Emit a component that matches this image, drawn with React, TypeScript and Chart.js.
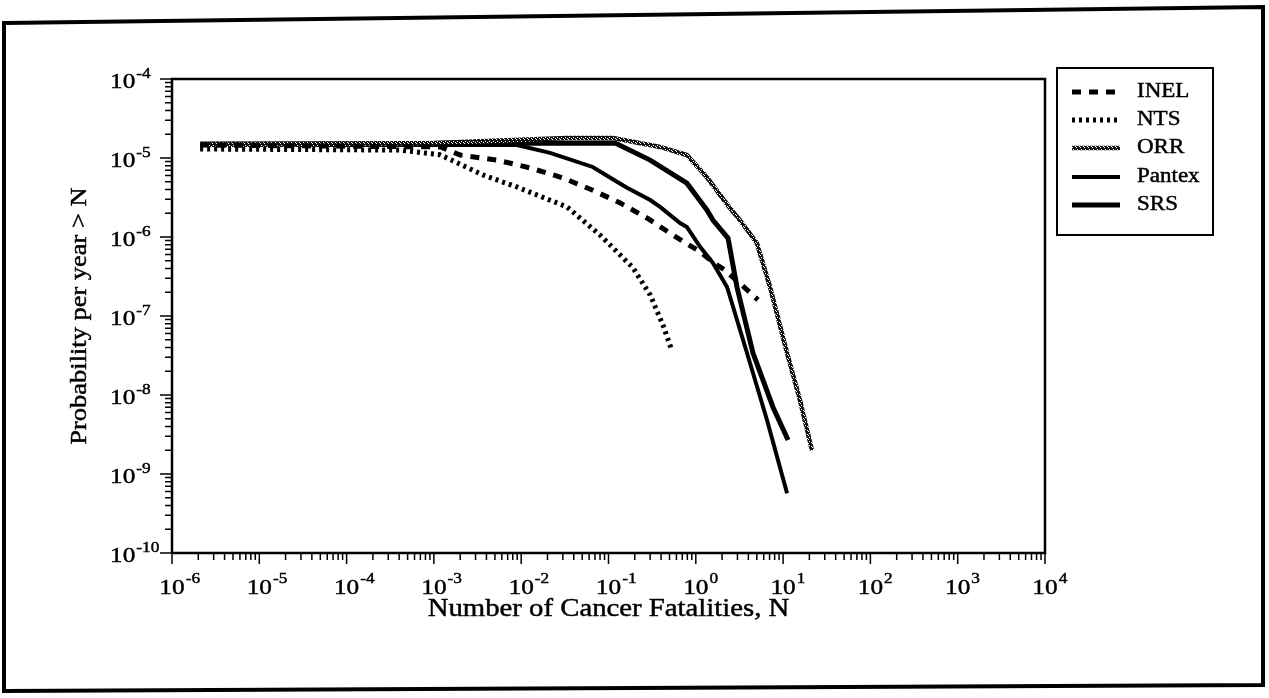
import React, { useEffect, useRef } from "react";
import { Chart, registerables } from "chart.js";

Chart.register(...registerables);

// ---------- data ----------
const X_TICK_EXPONENTS = [-6, -5, -4, -3, -2, -1, 0, 1, 2, 3, 4];
const Y_TICK_EXPONENTS = [-10, -9, -8, -7, -6, -5, -4];

const SERIES_NAMES = ["INEL", "NTS", "ORR", "Pantex", "SRS"];

const INEL_X = [2.1e-6, 1.2e-3, 2.0e-3, 5.3e-3, 1.26e-2, 3.0e-2, 6.6e-2, 0.136, 0.276, 0.545, 1.12, 1.57, 2.16, 3.95, 5.15];
const INEL_Y = [1.46e-5, 1.38e-5, 1.09e-5, 9.4e-6, 7.5e-6, 5.6e-6, 3.9e-6, 2.7e-6, 1.74e-6, 1.06e-6, 6.5e-7, 4.8e-7, 3.8e-7, 2.1e-7, 1.6e-7];

const NTS_X = [2.1e-6, 4.1e-4, 1.17e-3, 3.65e-3, 8.9e-3, 3.35e-2, 8.0e-2, 0.19, 0.3, 0.42, 0.53];
const NTS_Y = [1.3e-5, 1.26e-5, 1.1e-5, 6.1e-6, 4.3e-6, 2.4e-6, 1.06e-6, 4.1e-7, 1.85e-7, 7.7e-8, 3.7e-8];

const ORR_X = [2.1e-6, 1.0e-3, 3.35e-2, 0.113, 0.39, 0.79, 1.34, 2.4, 3.2, 5.0, 7.1, 11.1, 15.6, 21.4];
const ORR_Y = [1.46e-5, 1.55e-5, 1.79e-5, 1.79e-5, 1.38e-5, 1.09e-5, 5.7e-6, 2.4e-6, 1.64e-6, 8.4e-7, 2.3e-7, 3.4e-8, 8.6e-9, 2.0e-9];

const PANTEX_X = [2.1e-6, 8.9e-3, 2.14e-2, 6.6e-2, 0.125, 0.163, 0.3, 0.39, 0.66, 0.79, 1.12, 1.57, 2.28, 3.86, 6.55, 11.1];
const PANTEX_Y = [1.46e-5, 1.46e-5, 1.16e-5, 7.7e-6, 5.0e-6, 4.2e-6, 2.94e-6, 2.4e-6, 1.5e-6, 1.34e-6, 7.5e-7, 4.7e-7, 2.33e-7, 3.4e-8, 4.8e-9, 5.7e-10];

const SRS_X = [2.1e-6, 0.119, 0.3, 0.79, 1.34, 1.57, 2.34, 2.96, 4.52, 7.66, 11.4];
const SRS_Y = [1.5e-5, 1.55e-5, 9.4e-6, 4.8e-6, 2.2e-6, 1.64e-6, 9.7e-7, 2.33e-7, 3.4e-8, 7.0e-9, 2.7e-9];

const X_TITLE = "Number of Cancer Fatalities, N";
const Y_TITLE = "Probability per year > N";

// ---------- drawing helpers ----------
const W = 1269;
const H = 698;
const SX = 1.15;
const FONT = '"Liberation Serif", "Times New Roman", serif';

function drawText(ctx: CanvasRenderingContext2D, s: string, x: number, y: number, size: number, align: string, baseline: CanvasTextBaseline = "alphabetic") {
  ctx.save();
  ctx.font = `${size}px ${FONT}`;
  ctx.textBaseline = baseline;
  const w = ctx.measureText(s).width * SX;
  const x0 = align === "center" ? x - w / 2 : align === "right" ? x - w : x;
  ctx.translate(x0, y);
  ctx.scale(SX, 1);
  ctx.textAlign = "left";
  ctx.fillStyle = "#000";
  ctx.fillText(s, 0, 0);
  ctx.lineWidth = 0.45;
  ctx.strokeStyle = "#000";
  ctx.strokeText(s, 0, 0);
  ctx.restore();
  return w;
}

function textWidth(ctx: CanvasRenderingContext2D, s: string, size: number) {
  ctx.save();
  ctx.font = `${size}px ${FONT}`;
  const w = ctx.measureText(s).width * SX;
  ctx.restore();
  return w;
}

function makeStipple(): CanvasPattern | string {
  const c = document.createElement("canvas");
  c.width = 4;
  c.height = 4;
  const g = c.getContext("2d");
  if (!g) return "#555";
  g.fillStyle = "#111";
  g.fillRect(0, 0, 4, 4);
  g.fillStyle = "#fff";
  g.fillRect(1, 1, 1, 1);
  g.fillRect(3, 2, 1, 1);
  g.fillRect(0, 3, 1, 1);
  const p = g.createPattern(c, "repeat");
  return p || "#555";
}

const BASE = 22;
const SUP = 15;

const decorPlugin = {
  id: "decor",
  beforeDraw(chart: any) {
    const ctx = chart.ctx;
    ctx.save();
    ctx.fillStyle = "#fff";
    ctx.fillRect(0, 0, W, H);
    ctx.restore();
  },
  afterDraw(chart: any) {
    const ctx: CanvasRenderingContext2D = chart.ctx;
    const xs = chart.scales.x;
    const ys = chart.scales.y;
    const a = chart.chartArea;
    ctx.save();

    // plot frame
    ctx.strokeStyle = "#000";
    ctx.lineWidth = 2.5;
    ctx.strokeRect(a.left, a.top, a.right - a.left, a.bottom - a.top);

    // x ticks
    ctx.lineWidth = 1.5;
    ctx.beginPath();
    for (let k = X_TICK_EXPONENTS[0]; k <= X_TICK_EXPONENTS[X_TICK_EXPONENTS.length - 1]; k++) {
      const maxM = k === X_TICK_EXPONENTS[X_TICK_EXPONENTS.length - 1] ? 1 : 9;
      for (let m = 1; m <= maxM; m++) {
        const px = xs.getPixelForValue(m * Math.pow(10, k));
        const len = m === 1 ? 11 : 7;
        ctx.moveTo(px, a.bottom);
        ctx.lineTo(px, a.bottom + len);
      }
    }
    // y ticks
    for (let k = Y_TICK_EXPONENTS[0]; k <= Y_TICK_EXPONENTS[Y_TICK_EXPONENTS.length - 1]; k++) {
      const maxM = k === Y_TICK_EXPONENTS[Y_TICK_EXPONENTS.length - 1] ? 1 : 9;
      for (let m = 1; m <= maxM; m++) {
        const py = ys.getPixelForValue(m * Math.pow(10, k));
        const len = m === 1 ? 12 : 7;
        ctx.moveTo(a.left, py);
        ctx.lineTo(a.left - len, py);
      }
    }
    ctx.stroke();

    // x tick labels
    X_TICK_EXPONENTS.forEach((e) => {
      const px = xs.getPixelForValue(Math.pow(10, e));
      const w = textWidth(ctx, "10", BASE);
      drawText(ctx, "10", px, a.bottom + 41, BASE, "center");
      drawText(ctx, String(e), px + w / 2 + 1, a.bottom + 30, SUP, "left");
    });
    // y tick labels
    Y_TICK_EXPONENTS.forEach((e) => {
      const py = ys.getPixelForValue(Math.pow(10, e));
      const w = drawText(ctx, "10", 110, py + 9, BASE, "left");
      drawText(ctx, String(e), 110 + w + 1, py - 1, SUP, "left");
    });

    // axis titles
    drawText(ctx, X_TITLE, (a.left + a.right) / 2, 616, 25, "center");
    ctx.save();
    ctx.translate(80, (a.top + a.bottom) / 2);
    ctx.rotate(-Math.PI / 2);
    drawText(ctx, Y_TITLE, 0, 0, 23, "center", "middle");
    ctx.restore();

    // legend
    const lx = 1057, ly = 68, lw = 156, lh = 167;
    ctx.lineWidth = 2;
    ctx.strokeStyle = "#000";
    ctx.strokeRect(lx, ly, lw, lh);
    const rows = [92, 120, 148, 177, 205];
    chart.data.datasets.forEach((ds: any, i: number) => {
      const y = rows[i];
      ctx.save();
      ctx.strokeStyle = ds.borderColor;
      ctx.lineWidth = ds.borderWidth;
      ctx.setLineDash(ds.borderDash || []);
      ctx.beginPath();
      ctx.moveTo(1072, y);
      ctx.lineTo(1120, y);
      ctx.stroke();
      ctx.restore();
      drawText(ctx, ds.label, 1137, y, 20, "left", "middle");
    });

    // outer frame (slightly skewed like the scan)
    ctx.lineWidth = 4;
    ctx.strokeStyle = "#000";
    ctx.beginPath();
    ctx.moveTo(4, 23);
    ctx.lineTo(1263, 7);
    ctx.lineTo(1263, 685);
    ctx.lineTo(4, 691);
    ctx.closePath();
    ctx.stroke();

    ctx.restore();
  },
};

function zip(xs: number[], ys: number[]) {
  return xs.map((x, i) => ({ x, y: ys[i] }));
}

export default function App() {
  const ref = useRef<HTMLCanvasElement | null>(null);

  useEffect(() => {
    if (!ref.current) return;
    const stipple = makeStipple();
    const chart = new Chart(ref.current, {
      type: "line",
      data: {
        datasets: [
          { label: SERIES_NAMES[0], data: zip(INEL_X, INEL_Y), borderColor: "#000", borderWidth: 5, borderDash: [9, 8], pointRadius: 0, fill: false },
          { label: SERIES_NAMES[1], data: zip(NTS_X, NTS_Y), borderColor: "#000", borderWidth: 5, borderDash: [3, 4], pointRadius: 0, fill: false },
          { label: SERIES_NAMES[2], data: zip(ORR_X, ORR_Y), borderColor: stipple as any, borderWidth: 4.5, pointRadius: 0, fill: false },
          { label: SERIES_NAMES[3], data: zip(PANTEX_X, PANTEX_Y), borderColor: "#000", borderWidth: 4, pointRadius: 0, fill: false },
          { label: SERIES_NAMES[4], data: zip(SRS_X, SRS_Y), borderColor: "#000", borderWidth: 5, pointRadius: 0, fill: false },
        ],
      },
      options: {
        responsive: false,
        animation: false,
        devicePixelRatio: 1,
        layout: { padding: { left: 172, top: 79, right: W - 1045, bottom: H - 553 } },
        plugins: { legend: { display: false }, tooltip: { enabled: false }, title: { display: false } },
        scales: {
          x: {
            type: "logarithmic",
            min: 1e-6,
            max: 1e4,
            grid: { display: false, drawTicks: false },
            ticks: { display: false },
            border: { display: false },
          },
          y: {
            type: "logarithmic",
            min: 1e-10,
            max: 1e-4,
            grid: { display: false, drawTicks: false },
            ticks: { display: false },
            border: { display: false },
          },
        },
      },
      plugins: [decorPlugin],
    });
    return () => chart.destroy();
  }, []);

  return (
    <div style={{ position: "absolute", left: 0, top: 0, width: W, height: H, background: "#fff" }}>
      <canvas ref={ref} width={W} height={H} style={{ display: "block" }} />
    </div>
  );
}
